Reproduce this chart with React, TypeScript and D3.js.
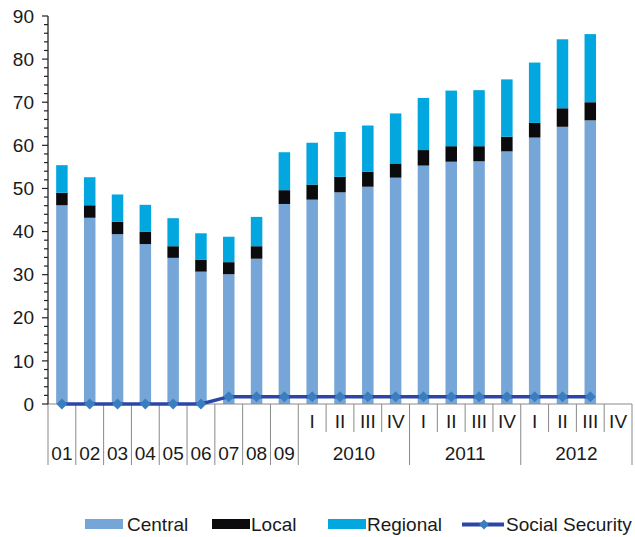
import React from "react";
import * as d3 from "d3";

const categories = ["01","02","03","04","05","06","07","08","09","2010 I","2010 II","2010 III","2010 IV","2011 I","2011 II","2011 III","2011 IV","2012 I","2012 II","2012 III","2012 IV"];
const catLabels = ["01","02","03","04","05","06","07","08","09","I","II","III","IV","I","II","III","IV","I","II","III","IV"];
const years = ["2010","2011","2012"];
const central = [46.1,43.2,39.4,37.1,33.9,30.7,30.1,33.7,46.4,47.4,49.1,50.4,52.5,55.3,56.2,56.3,58.6,61.8,64.3,65.8,null];
const local = [2.9,2.9,2.9,2.9,2.7,2.8,2.8,2.9,3.2,3.5,3.6,3.5,3.3,3.6,3.6,3.5,3.4,3.4,4.3,4.2,null];
const regional = [6.4,6.5,6.3,6.2,6.5,6.1,5.9,6.8,8.8,9.7,10.4,10.7,11.6,12.1,12.9,13.0,13.3,14.0,16.0,15.8,null];
const socialSecurity = [0,0,0,0,0,0,1.7,1.7,1.7,1.7,1.7,1.7,1.7,1.7,1.7,1.7,1.7,1.7,1.7,1.7,null];
const yTicks = [0,10,20,30,40,50,60,70,80,90];

const seriesKeys = ["Central","Local","Regional"];
const colors: Record<string,string> = { Central: "#76a6d7", Local: "#0b0b0d", Regional: "#03a7df" };
const lineColor = "#2c46a8";
const markerColor = "#3b7ebf";
const FONT = "'Liberation Sans', Arial, sans-serif";

export default function App() {
  const W = 635, H = 537;
  const x0 = 48, x1 = 632, yTop = 16, yBot = 404;
  const x = d3.scaleBand<string>().domain(categories).range([x0, x1]).paddingInner(0).paddingOuter(0);
  const y = d3.scaleLinear().domain([0, 90]).range([yBot, yTop]);
  const bw = x.bandwidth();
  const barW = 11.5;

  const table = categories.map((c, i) => ({
    cat: c,
    Central: central[i] ?? 0,
    Local: local[i] ?? 0,
    Regional: regional[i] ?? 0,
    has: central[i] != null,
  }));
  const stacked = d3.stack<any>().keys(seriesKeys)(table);

  const ssPts = categories
    .map((c, i) => ({ c, v: socialSecurity[i] }))
    .filter((d) => d.v != null) as { c: string; v: number }[];
  const line = d3.line<{ c: string; v: number }>()
    .x((d) => (x(d.c) as number) + bw / 2)
    .y((d) => y(d.v));

  const minor = d3.range(0, 91, 2);
  const longSep = new Set([0,1,2,3,4,5,6,7,8,9,13,17,21]);
  const diamond = (cx: number, cy: number, r: number) =>
    `M${cx},${cy - r}L${cx + r},${cy}L${cx},${cy + r}L${cx - r},${cy}Z`;

  return (
    <svg width={W} height={H} style={{ position: "absolute", left: 0, top: 0, background: "#fff" }} fontFamily={FONT}>
      {/* bars */}
      {stacked.map((s) => (
        <g key={s.key} fill={colors[s.key]}>
          {s.map((d, i) =>
            table[i].has ? (
              <rect key={i} x={(x(categories[i]) as number) + bw / 2 - barW / 2} y={y(d[1])} width={barW} height={y(d[0]) - y(d[1])} />
            ) : null
          )}
        </g>
      ))}
      {/* x axis line and separators */}
      <line x1={x0} x2={x1} y1={yBot} y2={yBot} stroke="#8a8a8a" strokeWidth={1} />
      {d3.range(0, categories.length + 1).map((i) => {
        const xx = x0 + i * bw;
        return <line key={i} x1={xx} x2={xx} y1={yBot} y2={longSep.has(i) ? 465 : 432} stroke="#8a8a8a" strokeWidth={1} />;
      })}
      {/* y axis */}
      <line x1={x0} x2={x0} y1={yTop} y2={yBot} stroke="#222" strokeWidth={1.3} />
      {minor.map((v) => (
        <line key={v} x1={x0 - (v % 10 === 0 ? 6 : 4)} x2={x0} y1={y(v)} y2={y(v)} stroke="#222" strokeWidth={1.2} />
      ))}
      {yTicks.map((v) => (
        <text key={v} x={34} y={y(v)} dy="0.35em" textAnchor="end" fontSize={19} fill="#1a1a1a">{v}</text>
      ))}
      {/* category labels */}
      {categories.map((c, i) => (
        <text key={c} x={(x(c) as number) + bw / 2} y={i < 9 ? 460 : 428} textAnchor="middle" fontSize={19} fill="#1a1a1a">{catLabels[i]}</text>
      ))}
      {years.map((yr, k) => {
        const start = x(`${yr} I`) as number;
        return <text key={yr} x={start + 2 * bw} y={460} textAnchor="middle" fontSize={19} fill="#1a1a1a">{yr}</text>;
      })}
      {/* social security line */}
      <path d={line(ssPts) || ""} fill="none" stroke={lineColor} strokeWidth={3.5} />
      {ssPts.map((d) => (
        <path key={d.c} d={diamond((x(d.c) as number) + bw / 2, y(d.v), 5.5)} fill={markerColor} />
      ))}
      {/* legend */}
      <g fontSize={19} fill="#1a1a1a">
        <rect x={85} y={519} width={38} height={10} fill={colors.Central} />
        <text x={127} y={531}>Central</text>
        <rect x={212} y={519} width={38} height={10} fill={colors.Local} />
        <text x={251} y={531}>Local</text>
        <rect x={328} y={519} width={38} height={10} fill={colors.Regional} />
        <text x={367} y={531}>Regional</text>
        <line x1={462} x2={504} y1={524.5} y2={524.5} stroke={lineColor} strokeWidth={4} />
        <path d={diamond(484, 524.5, 5)} fill={markerColor} />
        <text x={506} y={531}>Social Security</text>
      </g>
    </svg>
  );
}
